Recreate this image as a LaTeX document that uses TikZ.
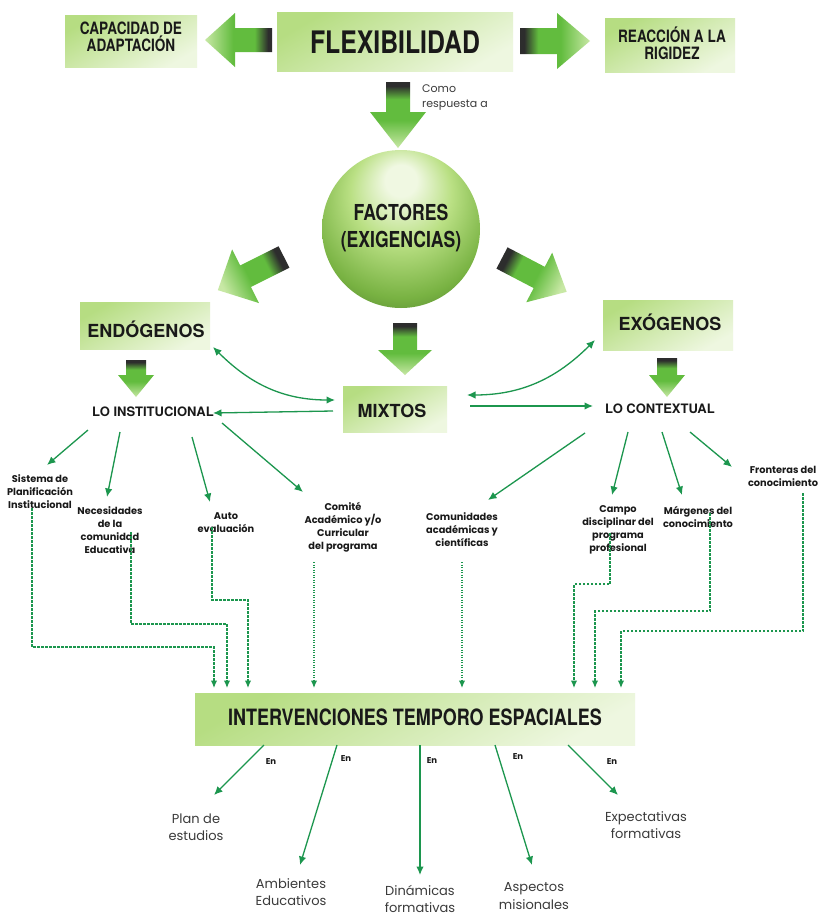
\documentclass[tikz,border=0pt]{standalone}
\usepackage{fontspec}
\setmainfont{Poppins}
\newfontfamily\condfont[FakeStretch=0.8]{TeX Gyre Heros}
\newfontfamily\headfont{TeX Gyre Heros}
\usetikzlibrary{arrows.meta,calc}

\definecolor{linkgreen}{RGB}{28,150,78}
\definecolor{boxtop}{RGB}{182,221,130}
\definecolor{boxbot}{RGB}{238,247,224}
\definecolor{inkdark}{RGB}{25,25,25}
\definecolor{arrowtip}{RGB}{200,232,165}
\definecolor{arrowmid}{RGB}{98,188,62}
\definecolor{arrowdark}{RGB}{45,45,45}
\definecolor{ballhi}{RGB}{240,248,226}
\definecolor{balllight}{RGB}{186,224,132}
\definecolor{ballmid}{RGB}{120,178,66}
\definecolor{balldark}{RGB}{78,124,46}
\definecolor{ballrim}{RGB}{45,68,32}

% gradient of the fat arrows: tip light, body green, tail dark
\pgfdeclareverticalshading{fatgrad}{100bp}{color(0bp)=(arrowtip); color(25bp)=(arrowtip); color(46bp)=(arrowmid); color(62bp)=(arrowmid); color(72bp)=(arrowdark); color(100bp)=(arrowdark)}
% green sphere with a highlight near the top
\pgfdeclareradialshading{ballgrad}{\pgfpoint{0bp}{17bp}}{color(0bp)=(ballhi); color(5bp)=(ballhi); color(16bp)=(balllight); color(29bp)=(ballmid); color(38bp)=(balldark); color(44bp)=(ballrim); color(50bp)=(ballrim)}

% fat arrow: tail, direction, shading angle, length, shaft half width, head half width, head length
\newcommand\fatarrow[7]{%
  \shade[shading=fatgrad, shading angle=#3, shift={#1}, rotate=#2]
    (0,-#5) -- ({#4-#7},-#5) -- ({#4-#7},-#6) -- (#4,0) -- ({#4-#7},#6) -- ({#4-#7},#5) -- (0,#5) -- cycle;}

\tikzset{
  gbox/.style={top color=boxtop, bottom color=boxbot, shading angle=30, inner sep=0pt, draw=none},
  cond/.style={text=inkdark, inner sep=0pt, align=center},
  headlbl/.style={text=inkdark, inner sep=0pt, anchor=base, font=\headfont\bfseries\fontsize{18}{18}\selectfont},
  sublbl/.style={text=inkdark, inner sep=0pt, anchor=base, font=\headfont\bfseries\fontsize{13}{13}\selectfont},
  lbl/.style={align=center, text=inkdark, inner sep=0pt, font=\bfseries\fontsize{9.8}{13}\selectfont},
  leaf/.style={align=center, text=inkdark!85, inner sep=0pt, font=\fontsize{13}{17.5}\selectfont},
  enlbl/.style={text=inkdark, inner sep=0pt, font=\bfseries\fontsize{8.5}{9}\selectfont},
  conn/.style={draw=linkgreen, line width=1.3pt, -{Latex[length=8.5pt,width=7.5pt]}},
  twoway/.style={draw=linkgreen, line width=1.3pt, {Latex[length=8.5pt,width=7.5pt]}-{Latex[length=8.5pt,width=7.5pt]}},
  dashconn/.style={draw=linkgreen, line width=1.2pt, dash pattern=on 2.5pt off 1.5pt, -{Latex[length=7.5pt,width=6.5pt]}},
  dotconn/.style={dashconn, dash pattern=on 1.1pt off 1.4pt},
}

\begin{document}
\begin{tikzpicture}[x=1pt,y=-1pt]
\fill[white] (0,0) rectangle (822,916);
\useasboundingbox (0,0) rectangle (822,916);

% ---------- top row ----------
\node[gbox, minimum width=132, minimum height=52] (capbox) at (131,41) {};
\node[cond, font=\condfont\bfseries\fontsize{17}{17}\selectfont] (cap) at (131,37) {CAPACIDAD DE\\ADAPTACIÓN};
\node[gbox, minimum width=236, minimum height=59] (flexbox) at (395,42) {};
\node[cond, font=\condfont\bfseries\fontsize{31}{31}\selectfont] (flex) at (395,42) {FLEXIBILIDAD};
\node[gbox, minimum width=130, minimum height=54] (reacbox) at (670,45) {};
\node[cond, font=\condfont\bfseries\fontsize{17}{17}\selectfont] (reac) at (672,43) {REACCIÓN A LA\\RIGIDEZ};

\fatarrow{(272,40)}{180}{270}{67}{12}{27}{30}
\fatarrow{(520,41)}{0}{90}{70}{13}{28}{33}
\fatarrow{(398,82)}{-90}{0}{66}{12}{28}{36}
\node[anchor=west, align=left, inner sep=0pt, text=inkdark!85, font=\fontsize{11}{15}\selectfont] (resp) at (422,98) {Como\\respuesta a};

% ---------- sphere ----------
\node[circle, minimum size=158, inner sep=0pt, shading=ballgrad] (sphere) at (401,229) {};
\node[cond, font=\condfont\bfseries\fontsize{22}{27}\selectfont] (fact) at (401,228) {FACTORES\\(EXIGENCIAS)};

\fatarrow{(284,257)}{206.6}{296.6}{74}{12}{30}{31}
\fatarrow{(502,258)}{-27.6}{62.4}{73}{12}{28}{31}
\fatarrow{(405,323)}{-90}{0}{52}{12}{27}{25}

% ---------- second level ----------
\node[gbox, minimum width=130, minimum height=47] (endobox) at (145,326) {};
\node[headlbl] (endo) at (146,337) {ENDÓGENOS};
\node[gbox, minimum width=130, minimum height=50] (exobox) at (668,325) {};
\node[headlbl] (exo) at (670,330) {EXÓGENOS};
\node[gbox, minimum width=104, minimum height=46] (mixbox) at (395,409) {};
\node[headlbl] (mix) at (392,417) {MIXTOS};

\fatarrow{(136,360)}{-90}{0}{37}{10}{18}{22}
\fatarrow{(667,358)}{-90}{0}{39}{10}{18}{22}

\node[sublbl] (loinst) at (153,416) {LO INSTITUCIONAL};
\node[sublbl] (loctx) at (660,413) {LO CONTEXTUAL};

\draw[twoway] ([shift={(68,21)}]endobox.center) to[out=-45,in=180] ([shift={(-60,-9)}]mixbox.center);
\draw[twoway] ([shift={(72,-14)}]mixbox.center) to[out=0,in=225] ([shift={(-73,15)}]exobox.center);
\draw[conn] ([shift={(-62,2)}]mixbox.center) -- ([shift={(60,-3)}]loinst.base);
\draw[conn] ([shift={(75,-3)}]mixbox.center) -- ([shift={(-67,-7)}]loctx.base);

% ---------- leaves ----------
\node[lbl] (sis) at (40,492) {Sistema de\\Planificación\\Institucional};
\node[lbl] (nec) at (110,530) {Necesidades\\de la\\comunidad\\Educativa};
\node[lbl] (auto) at (226,523) {Auto\\evaluación};
\node[lbl] (comite) at (343,527) {Comité\\Académico y/o\\Curricular\\del programa};
\node[lbl] (comun) at (462,530) {Comunidades\\académicas y\\científicas};
\node[lbl] (campo) at (618,530) {Campo\\disciplinar del\\programa\\profesional};
\node[lbl] (marg) at (698,517) {Márgenes del\\conocimiento};
\node[lbl] (front) at (783,476) {Fronteras del\\conocimiento};

\draw[conn] ([shift={(-65,14)}]loinst.base) -- ([shift={(7,-27)}]sis.center);
\draw[conn] ([shift={(-33,16)}]loinst.base) -- ([shift={(-3,-33)}]nec.center);
\draw[conn] ([shift={(39,21)}]loinst.base) -- ([shift={(-16,-21)}]auto.center);
\draw[conn] ([shift={(69,7)}]loinst.base) -- ([shift={(-40,-35)}]comite.center);
\draw[conn] ([shift={(-75,20)}]loctx.base) -- ([shift={(26,-30)}]comun.center);
\draw[conn] ([shift={(-32,19)}]loctx.base) -- ([shift={(-6,-35)}]campo.center);
\draw[conn] ([shift={(2,19)}]loctx.base) -- ([shift={(-16,-22)}]marg.center);
\draw[conn] ([shift={(30,19)}]loctx.base) -- ([shift={(-51,-9)}]front.center);

% ---------- bottom box ----------
\node[gbox, minimum width=440, minimum height=52] (interbox) at (415,719) {};
\node[cond, anchor=base, font=\condfont\bfseries\fontsize{22.5}{22.5}\selectfont] (inter) at (415,725) {INTERVENCIONES TEMPORO ESPACIALES};

% dashed routes into the bottom box
\draw[dashconn] ([shift={(-8,16)}]sis.center) |- ([shift={(-201,-72)}]interbox.center) -- ([shift={(-201,-31)}]interbox.center);
\draw[dashconn] ([shift={(21,2)}]nec.center) |- ([shift={(-188,-95)}]interbox.center) -- ([shift={(-188,-31)}]interbox.center);
\draw[dashconn] ([shift={(-14,4)}]auto.center) |- ([shift={(-167,-119)}]interbox.center) -- ([shift={(-167,-31)}]interbox.center);
\draw[dotconn] ([shift={(-29,35)}]comite.center) -- ([shift={(-101,-31)}]interbox.center);
\draw[dotconn] ([shift={(0,32)}]comun.center) -- ([shift={(47,-31)}]interbox.center);
\draw[dashconn] ([shift={(-8,3)}]campo.center) |- ([shift={(159,-135)}]interbox.center) -- ([shift={(159,-31)}]interbox.center);
\draw[dashconn] ([shift={(12,-4)}]marg.center) |- ([shift={(180,-108)}]interbox.center) -- ([shift={(180,-31)}]interbox.center);
\draw[dashconn] ([shift={(20,17)}]front.center) |- ([shift={(206,-88)}]interbox.center) -- ([shift={(206,-31)}]interbox.center);

% ---------- outcomes ----------
\node[leaf] (plan) at (196,827) {Plan de\\estudios};
\node[leaf] (amb) at (291,892) {Ambientes\\Educativos};
\node[leaf] (din) at (420,899) {Dinámicas\\formativas};
\node[leaf] (asp) at (534,896) {Aspectos\\misionales};
\node[leaf] (expc) at (646,825) {Expectativas\\formativas};

\draw[conn] ([shift={(-151,26)}]interbox.center) -- ([shift={(18,-32)}]plan.center);
\draw[conn] ([shift={(-78,26)}]interbox.center) -- ([shift={(9,-27)}]amb.center);
\draw[conn] ([shift={(5,26)}]interbox.center) -- ([shift={(0,-24)}]din.center);
\draw[conn] ([shift={(80,26)}]interbox.center) -- ([shift={(-2,-31)}]asp.center);
\draw[conn] ([shift={(153,26)}]interbox.center) -- ([shift={(-28,-30)}]expc.center);

\node[enlbl] (en1) at (271,762) {En};
\node[enlbl] (en2) at (346,759) {En};
\node[enlbl] (en3) at (432,761) {En};
\node[enlbl] (en4) at (518,757) {En};
\node[enlbl] (en5) at (612,762) {En};
\end{tikzpicture}
\end{document}
